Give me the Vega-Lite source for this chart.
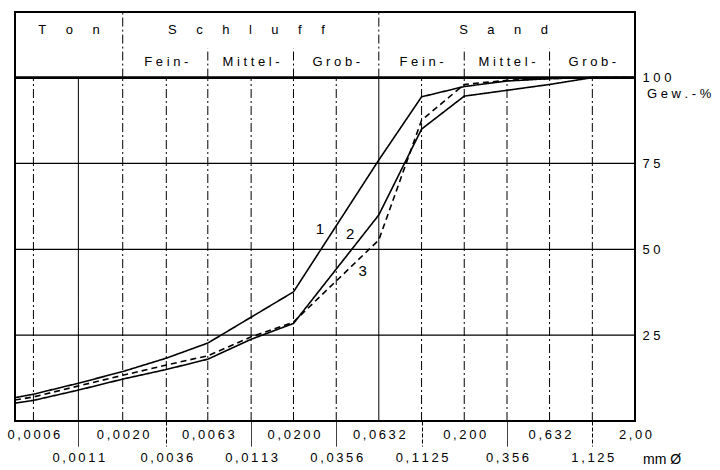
{
  "$schema": "https://vega.github.io/schema/vega-lite/v6.json",
  "autosize": "none",
  "width": 620,
  "height": 409,
  "padding": {"left": 15, "top": 12, "right": 85, "bottom": 49},
  "background": "white",
  "config": {
    "font": "Liberation Sans",
    "view": {"stroke": "black", "strokeWidth": 2},
    "axis": {"labelColor": "black", "labelFont": "Liberation Sans"}
  },
  "datasets": {
    "vgrid": [
      {"size": 0.0006, "kind": "dd"}, {"size": 0.0011, "kind": "solid"}, {"size": 0.002, "kind": "dd"},
      {"size": 0.0036, "kind": "dd"}, {"size": 0.0063, "kind": "dd"}, {"size": 0.0113, "kind": "dd"},
      {"size": 0.02, "kind": "dd"}, {"size": 0.0356, "kind": "dd"}, {"size": 0.0632, "kind": "solid"},
      {"size": 0.1125, "kind": "dd"}, {"size": 0.2, "kind": "dd"}, {"size": 0.356, "kind": "dd"},
      {"size": 0.632, "kind": "dd"}, {"size": 1.125, "kind": "dd"}
    ],
    "hgrid": [{"pct": 25}, {"pct": 50}, {"pct": 75}],
    "dividers": [
      {"size": 0.002, "span": "full"}, {"size": 0.0632, "span": "full"},
      {"size": 0.0063, "span": "sub"}, {"size": 0.02, "span": "sub"},
      {"size": 0.2, "span": "sub"}, {"size": 0.632, "span": "sub"}
    ],
    "header": [
      {"label": "Ton", "size": 0.00097, "row": "top"},
      {"label": "Schluff", "size": 0.0106, "row": "top"},
      {"label": "Sand", "size": 0.34, "row": "top"},
      {"label": "Fein-", "size": 0.0036, "row": "sub"},
      {"label": "Mittel-", "size": 0.0113, "row": "sub"},
      {"label": "Grob-", "size": 0.0356, "row": "sub"},
      {"label": "Fein-", "size": 0.1125, "row": "sub"},
      {"label": "Mittel-", "size": 0.356, "row": "sub"},
      {"label": "Grob-", "size": 1.125, "row": "sub"}
    ],
    "curves": [
      {"curve": "1", "size": 0.000468, "pct": 6.8}, {"curve": "1", "size": 0.0006, "pct": 7.8},
      {"curve": "1", "size": 0.0011, "pct": 11.0}, {"curve": "1", "size": 0.002, "pct": 14.4},
      {"curve": "1", "size": 0.0036, "pct": 18.3}, {"curve": "1", "size": 0.0063, "pct": 22.7},
      {"curve": "1", "size": 0.02, "pct": 37.6}, {"curve": "1", "size": 0.0632, "pct": 76.0},
      {"curve": "1", "size": 0.1125, "pct": 94.4}, {"curve": "1", "size": 0.2, "pct": 97.4},
      {"curve": "1", "size": 0.356, "pct": 99.0}, {"curve": "1", "size": 0.632, "pct": 99.7},
      {"curve": "1", "size": 1.125, "pct": 100}, {"curve": "1", "size": 2.0, "pct": 100},
      {"curve": "2", "size": 0.000468, "pct": 5.2}, {"curve": "2", "size": 0.0006, "pct": 6.0},
      {"curve": "2", "size": 0.0011, "pct": 9.0}, {"curve": "2", "size": 0.002, "pct": 12.2},
      {"curve": "2", "size": 0.0036, "pct": 15.0}, {"curve": "2", "size": 0.0063, "pct": 18.0},
      {"curve": "2", "size": 0.0113, "pct": 23.8}, {"curve": "2", "size": 0.02, "pct": 28.4},
      {"curve": "2", "size": 0.0632, "pct": 60.0}, {"curve": "2", "size": 0.1125, "pct": 85.0},
      {"curve": "2", "size": 0.2, "pct": 94.6}, {"curve": "2", "size": 0.356, "pct": 96.3},
      {"curve": "2", "size": 0.632, "pct": 98.0}, {"curve": "2", "size": 1.125, "pct": 100},
      {"curve": "2", "size": 2.0, "pct": 100},
      {"curve": "3", "size": 0.000468, "pct": 6.1}, {"curve": "3", "size": 0.0006, "pct": 7.0},
      {"curve": "3", "size": 0.0011, "pct": 10.2}, {"curve": "3", "size": 0.002, "pct": 13.3},
      {"curve": "3", "size": 0.0036, "pct": 16.3}, {"curve": "3", "size": 0.0063, "pct": 19.0},
      {"curve": "3", "size": 0.0113, "pct": 24.5}, {"curve": "3", "size": 0.02, "pct": 28.8},
      {"curve": "3", "size": 0.0632, "pct": 52.7}, {"curve": "3", "size": 0.1125, "pct": 87.6},
      {"curve": "3", "size": 0.2, "pct": 98.0}, {"curve": "3", "size": 0.356, "pct": 99.2},
      {"curve": "3", "size": 0.632, "pct": 99.7}, {"curve": "3", "size": 1.125, "pct": 100},
      {"curve": "3", "size": 2.0, "pct": 100}
    ],
    "numbers": [
      {"label": "1", "size": 0.0286, "pct": 55.8},
      {"label": "2", "size": 0.0429, "pct": 54.4},
      {"label": "3", "size": 0.0509, "pct": 43.8}
    ]
  },
  "resolve": {"axis": {"x": "independent", "y": "independent"}, "scale": {"strokeDash": "independent"}},
  "layer": [
    {
      "data": {"name": "vgrid"},
      "mark": {"type": "rule", "color": "black", "strokeWidth": 1},
      "encoding": {
        "x": {
          "field": "size", "type": "quantitative",
          "scale": {"type": "log", "domain": [0.000468, 2.0], "nice": false},
          "axis": {
            "orient": "bottom",
            "values": [0.0006, 0.002, 0.0063, 0.02, 0.0632, 0.2, 0.632, 2.0],
            "ticks": false, "domain": false, "grid": false, "title": null,
            "labelPadding": 7, "labelFontSize": 13, "labelFlush": false, "labelOverlap": false,
            "labelExpr": "join(split(replace(format(datum.value, datum.value < 0.15 ? '.4f' : datum.value < 1.5 ? '.3f' : '.2f'), '.', ','), ''), '\u2009')"
          }
        },
        "y": {
          "datum": 0, "type": "quantitative",
          "scale": {"domain": [0, 119.1], "nice": false, "zero": false},
          "axis": null
        },
        "y2": {"datum": 100},
        "strokeDash": {
          "field": "kind", "type": "nominal",
          "scale": {"domain": ["solid", "dd"], "range": [[1, 0], [9, 3, 2, 3]]},
          "legend": null
        }
      }
    },
    {
      "data": {"name": "hgrid"},
      "mark": {"type": "rule", "color": "black", "strokeWidth": 1.3},
      "encoding": {
        "y": {"field": "pct", "type": "quantitative", "axis": null}
      }
    },
    {
      "data": {"values": [{"pct": 100}]},
      "mark": {"type": "rule", "color": "black", "strokeWidth": 2.6},
      "encoding": {
        "y": {"field": "pct", "type": "quantitative", "axis": null}
      }
    },
    {
      "data": {"name": "dividers"},
      "transform": [{"filter": "datum.span == 'full'"}],
      "mark": {"type": "rule", "color": "black", "strokeWidth": 1, "strokeDash": [9, 3, 2, 3]},
      "encoding": {
        "x": {"field": "size", "type": "quantitative", "axis": null},
        "y": {"datum": 100, "type": "quantitative", "axis": null},
        "y2": {"datum": 119.1}
      }
    },
    {
      "data": {"name": "dividers"},
      "transform": [{"filter": "datum.span == 'sub'"}],
      "mark": {"type": "rule", "color": "black", "strokeWidth": 1, "strokeDash": [9, 3, 2, 3]},
      "encoding": {
        "x": {"field": "size", "type": "quantitative", "axis": null},
        "y": {"datum": 100, "type": "quantitative", "axis": null},
        "y2": {"datum": 108.5}
      }
    },
    {
      "data": {"name": "header"},
      "transform": [
        {"filter": "datum.row == 'top'"},
        {"calculate": "join(split(datum.label, ''), '\u2003\u2002')", "as": "shown"}
      ],
      "mark": {"type": "text", "fontSize": 13, "color": "black", "align": "center", "baseline": "middle"},
      "encoding": {
        "x": {"field": "size", "type": "quantitative", "axis": null},
        "y": {"datum": 113.8, "type": "quantitative", "axis": null},
        "text": {"field": "shown"}
      }
    },
    {
      "data": {"name": "header"},
      "transform": [
        {"filter": "datum.row == 'sub'"},
        {"calculate": "join(split(datum.label, ''), ' ')", "as": "shown"}
      ],
      "mark": {"type": "text", "fontSize": 13, "color": "black", "align": "center", "baseline": "middle"},
      "encoding": {
        "x": {"field": "size", "type": "quantitative", "axis": null},
        "y": {"datum": 104.5, "type": "quantitative", "axis": null},
        "text": {"field": "shown"}
      }
    },
    {
      "data": {"name": "curves"},
      "mark": {"type": "line", "color": "black", "strokeWidth": 1.6},
      "encoding": {
        "x": {
          "field": "size", "type": "quantitative",
          "scale": {"type": "log", "domain": [0.000468, 2.0], "nice": false},
          "axis": {
            "orient": "bottom",
            "values": [0.0011, 0.0036, 0.0113, 0.0356, 0.1125, 0.356, 1.125],
            "ticks": true, "tickSize": 25, "tickColor": "black", "tickWidth": 1,
            "tickDash": {"condition": {"test": "(datum.value > 0.003 && datum.value < 0.004) || (datum.value > 0.1 && datum.value < 0.12) || datum.value > 1", "value": [4, 2]}, "value": [1, 0]},
            "domain": false, "grid": false, "title": null,
            "labelPadding": 5, "labelFontSize": 13, "labelFlush": false, "labelOverlap": false,
            "labelExpr": "join(split(replace(format(datum.value, datum.value < 0.15 ? '.4f' : datum.value < 1.5 ? '.3f' : '.2f'), '.', ','), ''), '\u2009')"
          }
        },
        "y": {
          "field": "pct", "type": "quantitative",
          "scale": {"domain": [0, 119.1], "nice": false, "zero": false},
          "axis": {
            "orient": "right", "values": [25, 50, 75, 100], "ticks": false, "domain": false,
            "grid": false, "title": null, "labelPadding": 7, "labelFontSize": 13,
            "labelColor": "black", "labelAlign": "left", "labelOverlap": false,
            "labelExpr": "join(split(format(datum.value, 'd'), ''), ' ')"
          }
        },
        "detail": {"field": "curve"},
        "strokeDash": {
          "field": "curve", "type": "nominal",
          "scale": {"domain": ["1", "2", "3"], "range": [[1, 0], [1, 0], [6, 4]]},
          "legend": null
        }
      }
    },
    {
      "data": {"name": "numbers"},
      "mark": {"type": "text", "fontSize": 15, "color": "black", "align": "center", "baseline": "middle"},
      "encoding": {
        "x": {"field": "size", "type": "quantitative", "axis": null},
        "y": {"field": "pct", "type": "quantitative", "axis": null},
        "text": {"field": "label"}
      }
    },
    {
      "data": {"values": [{"t": "Gew.-%"}]},
      "transform": [{"calculate": "join(split(datum.t, ''), ' ')", "as": "shown"}],
      "mark": {"type": "text", "fontSize": 13, "color": "black", "align": "left", "baseline": "middle", "dx": 12},
      "encoding": {
        "x": {"datum": 2.0, "type": "quantitative", "axis": null},
        "y": {"datum": 95.2, "type": "quantitative", "axis": null},
        "text": {"field": "shown"}
      }
    },
    {
      "data": {"values": [{"t": "mm Ø"}]},
      "mark": {"type": "text", "fontSize": 14, "color": "black", "align": "left", "baseline": "middle", "dx": 8, "dy": 39},
      "encoding": {
        "x": {"datum": 2.0, "type": "quantitative", "axis": null},
        "y": {"datum": 0, "type": "quantitative", "axis": null},
        "text": {"field": "t"}
      }
    }
  ]
}
